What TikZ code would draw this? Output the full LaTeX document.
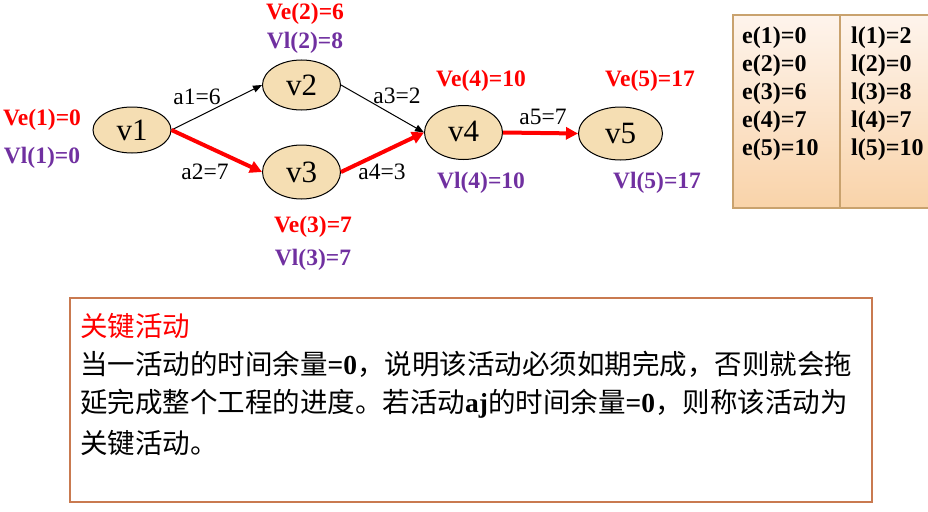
\documentclass[tikz,border=0pt]{standalone}
\usepackage{fontspec}
\setmainfont{Liberation Serif}
\newfontfamily\cjk{Noto Sans CJK SC}
\usetikzlibrary{arrows.meta,shapes.geometric}
\definecolor{vered}{HTML}{FF0000}
\definecolor{vlpurple}{HTML}{7030A0}
\definecolor{ellfill}{HTML}{F5DEB3}
\definecolor{tabtop}{HTML}{FEF4EC}
\definecolor{tabbot}{HTML}{F9D3A9}
\definecolor{tabedge}{HTML}{C9A26E}
\definecolor{boxedge}{HTML}{C97A50}
\tikzset{
  vert/.style={ellipse,draw=black,line width=1pt,fill=ellfill,minimum width=78pt,minimum height=50pt,inner sep=0pt,font=\fontsize{31}{33}\selectfont},
  thin arrow/.style={draw=black,line width=1pt,-{Triangle[length=9pt,width=7pt]}},
  crit arrow/.style={draw=vered,line width=4pt,-{Triangle[length=12pt,width=12pt]}},
  elabel/.style={font=\fontsize{23.5}{26}\selectfont,inner sep=0pt},
  velabel/.style={text=vered,font=\fontsize{23.5}{26}\selectfont\bfseries,inner sep=0pt},
  vllabel/.style={text=vlpurple,font=\fontsize{23.5}{26}\selectfont\bfseries,inner sep=0pt},
  tabtext/.style={font=\fontsize{24}{26}\selectfont\bfseries,inner sep=0pt,anchor=west},
  cjkline/.style={font=\cjk\fontsize{27.5}{30}\selectfont,inner sep=0pt,anchor=west}
}
\begin{document}
\begin{tikzpicture}[x=1pt,y=-1pt]
\useasboundingbox (0,0) rectangle (928,511);
% vertices
\node[vert,minimum height=46pt] (v1) at (132,130) {\raisebox{-3pt}{v1}};
\node[vert] (v2) at (301.5,85) {v2};
\node[vert,minimum height=54pt] (v3) at (301.5,172) {\raisebox{-4pt}{v3}};
\node[vert,minimum height=54pt] (v4) at (463.5,132.5) {\raisebox{2pt}{v4}};
\node[vert,minimum width=84pt,minimum height=53pt] (v5) at (620.5,133.5) {\raisebox{-4pt}{v5}};
% edges
\draw[thin arrow] (v1.east) -- (v2.west);
\draw[crit arrow] (v1.east) -- (v3.west);
\draw[thin arrow] (v2.east) -- (v4.west);
\draw[crit arrow] (v3.east) -- (v4.west);
\draw[crit arrow] (v4.east) -- (v5.west);
% edge labels
\node[elabel] (la1) at (197,97) {a1=6};
\node[elabel] (la2) at (205,172) {a2=7};
\node[elabel] (la3) at (397,96) {a3=2};
\node[elabel] (la4) at (382,172) {a4=3};
\node[elabel] (la5) at (543,117) {a5=7};
% vertex times
\node[velabel] (ve1) at (42,120) {Ve(1)=0};
\node[vllabel] (vl1) at (42,158) {Vl(1)=0};
\node[velabel] (ve2) at (305,14) {Ve(2)=6};
\node[vllabel] (vl2) at (305,43) {Vl(2)=8};
\node[velabel] (ve3) at (313,227) {Ve(3)=7};
\node[vllabel] (vl3) at (313,260) {Vl(3)=7};
\node[velabel] (ve4) at (481,81) {Ve(4)=10};
\node[vllabel] (vl4) at (481,183) {Vl(4)=10};
\node[velabel] (ve5) at (650,81) {Ve(5)=17};
\node[vllabel] (vl5) at (657,183) {Vl(5)=17};
% table
\shade[top color=tabtop,bottom color=tabbot] (733,15) rectangle (928,208);
\draw[tabedge,line width=1.2pt] (928,15) -- (733,15) -- (733,208) -- (928,208);
\draw[tabedge,line width=1.2pt] (840,15) -- (840,208);
\node[tabtext] (e1) at (742,38) {e(1)=0};
\node[tabtext] (e2) at (742,66) {e(2)=0};
\node[tabtext] (e3) at (742,94) {e(3)=6};
\node[tabtext] (e4) at (742,122) {e(4)=7};
\node[tabtext] (e5) at (742,150) {e(5)=10};
\node[tabtext] (l1) at (851,38) {l(1)=2};
\node[tabtext] (l2) at (851,66) {l(2)=0};
\node[tabtext] (l3) at (851,94) {l(3)=8};
\node[tabtext] (l4) at (851,122) {l(4)=7};
\node[tabtext] (l5) at (851,150) {l(5)=10};
% bottom box
\draw[boxedge,line width=2pt] (70,298) rectangle (872,502);
\node[cjkline,text=vered] (t0) at (80,326) {关键活动};
\node[cjkline] (t1) at (80,364) {当一活动的时间余量{\rmfamily\bfseries =0}，说明该活动必须如期完成，否则就会拖};
\node[cjkline] (t2) at (80,404) {延完成整个工程的进度。若活动{\rmfamily\bfseries aj}的时间余量{\rmfamily\bfseries =0}，则称该活动为};
\node[cjkline] (t3) at (80,443) {关键活动。};
\end{tikzpicture}
\end{document}
